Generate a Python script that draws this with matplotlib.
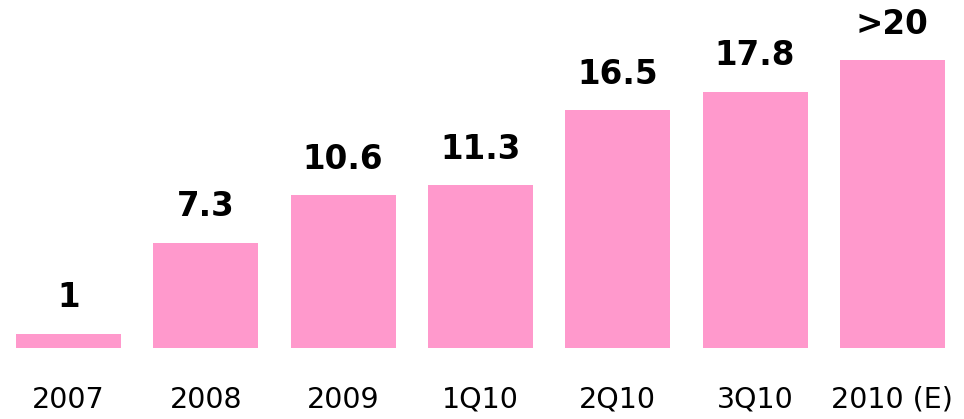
import matplotlib.pyplot as plt

categories = ['2007', '2008', '2009', '1Q10', '2Q10', '3Q10', '2010 (E)']
values = [1, 7.3, 10.6, 11.3, 16.5, 17.8, 20]
labels = ['1', '7.3', '10.6', '11.3', '16.5', '17.8', '>20']

fig = plt.figure(figsize=(9.64, 4.19), dpi=100)
ax = fig.add_axes([0, 71 / 419, 1, 348 / 419])

x = range(len(categories))
ax.bar(x, values, width=0.765, color='#ff99cc')

for xi, v, lab in zip(x, values, labels):
    ax.annotate(lab, (xi, v), xytext=(0, 14), textcoords='offset points',
                ha='center', va='bottom', fontsize=23.5, fontweight='bold')

ax.set_xlim(-0.499, 6.522)
ax.set_ylim(0, 348 / 14.4)
ax.set_xticks(list(x))
ax.set_xticklabels(categories, fontsize=20.5)
ax.tick_params(axis='x', length=0, pad=27)
ax.set_yticks([])
for s in ax.spines.values():
    s.set_visible(False)

fig.savefig('out.png', dpi=100)
